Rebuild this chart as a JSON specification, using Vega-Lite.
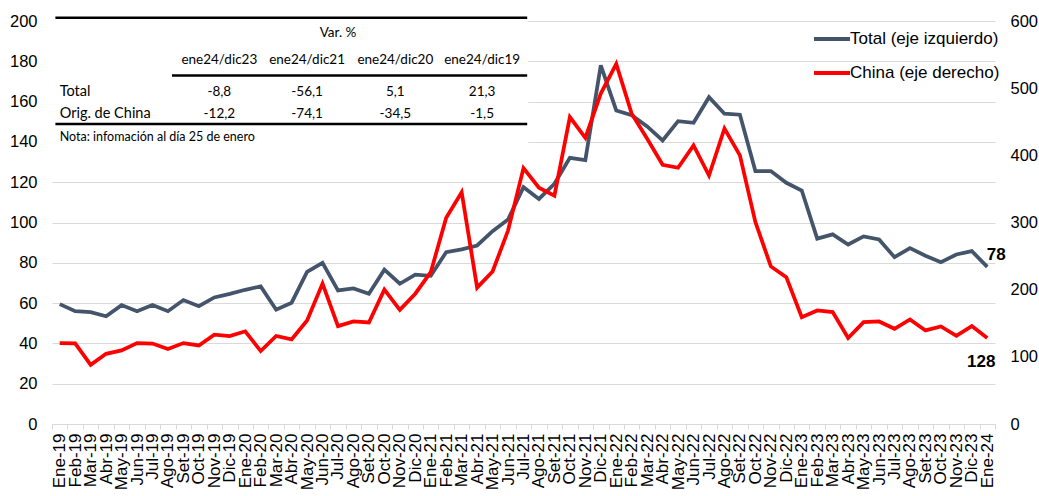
{
"$schema":"https://vega.github.io/schema/vega-lite/v6.json",
"width":943,"height":403,
"autosize":{"type":"none"},
"padding":{"left":52,"top":21,"right":44,"bottom":72},
"background":"#ffffff",
"config":{"view":{"stroke":null},"font":"Liberation Sans"},
"datasets":{
"serie":[
{"mes":"Ene-19","total":59.5,"china":120.5},
{"mes":"Feb-19","total":56,"china":120},
{"mes":"Mar-19","total":55.5,"china":88},
{"mes":"Abr-19","total":53.5,"china":104.5},
{"mes":"May-19","total":59,"china":109.5},
{"mes":"Jun-19","total":56,"china":120.5},
{"mes":"Jul-19","total":59,"china":119.8},
{"mes":"Ago-19","total":56,"china":111.6},
{"mes":"Set-19","total":61.5,"china":120.5},
{"mes":"Oct-19","total":58.5,"china":117},
{"mes":"Nov-19","total":62.8,"china":133},
{"mes":"Dic-19","total":64.6,"china":131},
{"mes":"Ene-20","total":66.6,"china":138},
{"mes":"Feb-20","total":68.3,"china":108.6},
{"mes":"Mar-20","total":56.7,"china":131},
{"mes":"Abr-20","total":60.2,"china":126},
{"mes":"May-20","total":75.5,"china":154},
{"mes":"Jun-20","total":80,"china":209},
{"mes":"Jul-20","total":66.3,"china":145.8},
{"mes":"Ago-20","total":67.3,"china":152.7},
{"mes":"Set-20","total":64.6,"china":151.2},
{"mes":"Oct-20","total":76.6,"china":200},
{"mes":"Nov-20","total":69.6,"china":170},
{"mes":"Dic-20","total":74.1,"china":194},
{"mes":"Ene-21","total":73.5,"china":226},
{"mes":"Feb-21","total":85.3,"china":307},
{"mes":"Mar-21","total":86.7,"china":345},
{"mes":"Abr-21","total":88.6,"china":203},
{"mes":"May-21","total":95.7,"china":227},
{"mes":"Jun-21","total":101.5,"china":288},
{"mes":"Jul-21","total":117.5,"china":381},
{"mes":"Ago-21","total":111.7,"china":351.7},
{"mes":"Set-21","total":119.2,"china":340},
{"mes":"Oct-21","total":132.1,"china":457},
{"mes":"Nov-21","total":131,"china":426},
{"mes":"Dic-21","total":178,"china":492},
{"mes":"Ene-22","total":155.6,"china":536},
{"mes":"Feb-22","total":153.2,"china":462},
{"mes":"Mar-22","total":147.7,"china":424.7},
{"mes":"Abr-22","total":140.7,"china":386},
{"mes":"May-22","total":150.3,"china":381.5},
{"mes":"Jun-22","total":149.5,"china":414.8},
{"mes":"Jul-22","total":162.2,"china":370},
{"mes":"Ago-22","total":154,"china":440},
{"mes":"Set-22","total":153.5,"china":400},
{"mes":"Oct-22","total":125.5,"china":300.6},
{"mes":"Nov-22","total":125.5,"china":234.6},
{"mes":"Dic-22","total":119.7,"china":218.7},
{"mes":"Ene-23","total":115.9,"china":159},
{"mes":"Feb-23","total":92,"china":169},
{"mes":"Mar-23","total":94.1,"china":166.6},
{"mes":"Abr-23","total":89.1,"china":128},
{"mes":"May-23","total":93.1,"china":151.7},
{"mes":"Jun-23","total":91.6,"china":152.7},
{"mes":"Jul-23","total":82.8,"china":141.8},
{"mes":"Ago-23","total":87.3,"china":155.7},
{"mes":"Set-23","total":83.5,"china":139.3},
{"mes":"Oct-23","total":80.3,"china":145.3},
{"mes":"Nov-23","total":84.1,"china":131.4},
{"mes":"Dic-23","total":85.8,"china":145.8},
{"mes":"Ene-24","total":78,"china":128}
],
"tabla":[
{"g":"a","mes":"Nov-19","v":178.8,"t":"ene24/dic23"},
{"g":"a","mes":"Abr-21","v":178.8,"t":"ene24/dic19"},
{"g":"b","mes":"May-20","v":178.8,"t":"ene24/dic21"},
{"g":"c","mes":"Nov-20","v":178.8,"t":"ene24/dic20"},
{"g":"b","mes":"Jul-20","v":191.9,"t":"Var. %"},
{"g":"a","mes":"Nov-19","v":162.6,"t":"-8,8"},
{"g":"a","mes":"Abr-21","v":162.6,"t":"21,3"},
{"g":"b","mes":"May-20","v":162.6,"t":"-56,1"},
{"g":"c","mes":"Nov-20","v":162.6,"t":"5,1"},
{"g":"a","mes":"Nov-19","v":152.0,"t":"-12,2"},
{"g":"a","mes":"Abr-21","v":152.0,"t":"-1,5"},
{"g":"b","mes":"May-20","v":152.0,"t":"-74,1"},
{"g":"c","mes":"Nov-20","v":152.0,"t":"-34,5"},
{"g":"r","mes":"Ene-19","v":162.6,"t":"Total"},
{"g":"r","mes":"Ene-19","v":152.0,"t":"Orig. de China"},
{"g":"n","mes":"Ene-19","v":140.4,"t":"Nota: infomación al día 25 de enero"}
],
"lineas":[
{"g":"full","mes":"Ene-19","hasta":"Jul-21","v":201.6},
{"g":"full","mes":"Ene-19","hasta":"Jul-21","v":148.9},
{"g":"head","mes":"Ago-19","hasta":"Jul-21","v":173.0}
]
},
"layer":[
{"layer":[
{"data":{"values":[{"mes":"Ene-19","hasta":"Jul-21","v":136.5,"v2":203}]},
 "mark":{"type":"rect","fill":"#ffffff"},
 "encoding":{"x":{"field":"mes","type":"ordinal","bandPosition":0,"title":null},"x2":{"field":"hasta","bandPosition":0.8},"y":{"field":"v","type":"quantitative","title":null},"y2":{"field":"v2"}}},
{"data":{"name":"lineas"},"transform":[{"filter":"datum.g==='full'"}],
 "mark":{"type":"rule","color":"#000000","strokeWidth":2.5},
 "encoding":{"x":{"field":"mes","type":"ordinal","bandPosition":0.22,"title":null},"x2":{"field":"hasta","bandPosition":0.74},"y":{"field":"v","type":"quantitative","title":null}}},
{"data":{"name":"lineas"},"transform":[{"filter":"datum.g==='head'"}],
 "mark":{"type":"rule","color":"#000000","strokeWidth":2.5},
 "encoding":{"x":{"field":"mes","type":"ordinal","bandPosition":0.76,"title":null},"x2":{"field":"hasta","bandPosition":0.74},"y":{"field":"v","type":"quantitative","title":null}}},
{"data":{"name":"tabla"},"transform":[{"filter":"datum.g==='a'"}],
 "mark":{"type":"text","font":"Lato","fontSize":13.5,"align":"center","baseline":"alphabetic","dx":5,"color":"#000000"},
 "encoding":{"x":{"field":"mes","type":"ordinal","title":null},"y":{"field":"v","type":"quantitative","title":null},"text":{"field":"t"}}},
{"data":{"name":"tabla"},"transform":[{"filter":"datum.g==='b'"}],
 "mark":{"type":"text","font":"Lato","fontSize":13.5,"align":"center","baseline":"alphabetic","dx":0,"color":"#000000"},
 "encoding":{"x":{"field":"mes","type":"ordinal","title":null},"y":{"field":"v","type":"quantitative","title":null},"text":{"field":"t"}}},
{"data":{"name":"tabla"},"transform":[{"filter":"datum.g==='c'"}],
 "mark":{"type":"text","font":"Lato","fontSize":13.5,"align":"center","baseline":"alphabetic","dx":-4.5,"color":"#000000"},
 "encoding":{"x":{"field":"mes","type":"ordinal","title":null},"y":{"field":"v","type":"quantitative","title":null},"text":{"field":"t"}}},
{"data":{"name":"tabla"},"transform":[{"filter":"datum.g==='r'"}],
 "mark":{"type":"text","font":"Lato","fontSize":14.5,"align":"left","baseline":"alphabetic","color":"#000000"},
 "encoding":{"x":{"field":"mes","type":"ordinal","title":null},"y":{"field":"v","type":"quantitative","title":null},"text":{"field":"t"}}},
{"data":{"name":"tabla"},"transform":[{"filter":"datum.g==='n'"}],
 "mark":{"type":"text","font":"Lato","fontSize":12.5,"align":"left","baseline":"alphabetic","color":"#000000"},
 "encoding":{"x":{"field":"mes","type":"ordinal","title":null},"y":{"field":"v","type":"quantitative","title":null},"text":{"field":"t"}}},
{"data":{"name":"serie"},
 "mark":{"type":"line","strokeWidth":3.75},
 "encoding":{
  "x":{"field":"mes","type":"ordinal","title":null,
   "scale":{"type":"band","paddingInner":0,"paddingOuter":0,"domain":["Ene-19","Feb-19","Mar-19","Abr-19","May-19","Jun-19","Jul-19","Ago-19","Set-19","Oct-19","Nov-19","Dic-19","Ene-20","Feb-20","Mar-20","Abr-20","May-20","Jun-20","Jul-20","Ago-20","Set-20","Oct-20","Nov-20","Dic-20","Ene-21","Feb-21","Mar-21","Abr-21","May-21","Jun-21","Jul-21","Ago-21","Set-21","Oct-21","Nov-21","Dic-21","Ene-22","Feb-22","Mar-22","Abr-22","May-22","Jun-22","Jul-22","Ago-22","Set-22","Oct-22","Nov-22","Dic-22","Ene-23","Feb-23","Mar-23","Abr-23","May-23","Jun-23","Jul-23","Ago-23","Set-23","Oct-23","Nov-23","Dic-23","Ene-24"]},
   "axis":{"title":null,"labelAngle":270,"labelFontSize":17,"labelColor":"#000000","labelFont":"Liberation Sans","tickColor":"#D9D9D9","tickSize":5,"tickBand":"extent","domainColor":"#D9D9D9","labelPadding":4,"labelOverlap":false,"grid":false,"labelBound":false}},
  "y":{"field":"total","type":"quantitative","title":null,"scale":{"domain":[0,200],"nice":false},
   "axis":{"title":null,"values":[0,20,40,60,80,100,120,140,160,180,200],"grid":true,"gridColor":"#D9D9D9","gridWidth":1,"domain":false,"ticks":false,"labelPadding":15,"labelFontSize":16.5,"labelColor":"#000000","labelFont":"Liberation Sans"}},
  "color":{"datum":"Total (eje izquierdo)","scale":{"domain":["Total (eje izquierdo)","China (eje derecho)"],"range":["#44546A","#FF0000"]},
   "legend":{"orient":"none","legendX":760,"legendY":-2,"title":null,"symbolType":"stroke","symbolSize":1296,"symbolStrokeWidth":4,"labelFontSize":17,"labelFont":"Liberation Sans","labelColor":"#000000","labelOffset":-2,"rowPadding":6,"padding":0,"labelLimit":300}}
 }},
{"data":{"values":[{"mes":"Ene-24","v":78,"t":"78"}]},
 "mark":{"type":"text","fontSize":17,"fontWeight":"bold","align":"center","baseline":"middle","dx":9,"dy":-12,"color":"#000000"},
 "encoding":{"x":{"field":"mes","type":"ordinal","title":null},"y":{"field":"v","type":"quantitative","title":null},"text":{"field":"t"}}}
]},
{"layer":[
{"data":{"name":"serie"},
 "mark":{"type":"line","strokeWidth":3.75},
 "encoding":{
  "x":{"field":"mes","type":"ordinal","title":null},
  "y":{"field":"china","type":"quantitative","title":null,"scale":{"domain":[0,600],"nice":false},
   "axis":{"orient":"right","title":null,"values":[0,50,100,150,200,250,300,350,400,450,500,550,600],"grid":false,"domain":false,"ticks":false,"labelPadding":15,"labelFontSize":16.5,"labelColor":"#000000","labelFont":"Liberation Sans"}},
  "color":{"datum":"China (eje derecho)"}
 }},
{"data":{"values":[{"mes":"Ene-24","v":128,"t":"128"}]},
 "mark":{"type":"text","fontSize":17,"fontWeight":"bold","align":"center","baseline":"middle","dx":-6,"dy":24,"color":"#000000"},
 "encoding":{"x":{"field":"mes","type":"ordinal","title":null},"y":{"field":"v","type":"quantitative","title":null},"text":{"field":"t"}}}
]}
],
"resolve":{"scale":{"y":"independent"}}
}
